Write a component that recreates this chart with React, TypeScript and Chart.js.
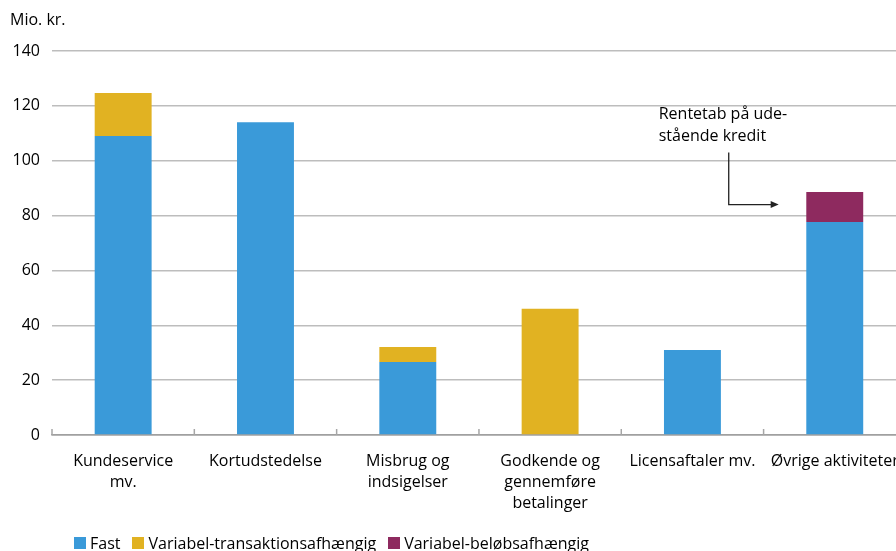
import React, { useEffect, useRef } from "react";
import { Chart, registerables } from "chart.js";

Chart.register(...registerables);

const categories: string[][] = [
  ["Kundeservice", "mv."],
  ["Kortudstedelse"],
  ["Misbrug og", "indsigelser"],
  ["Godkende og", "gennemføre", "betalinger"],
  ["Licensaftaler mv."],
  ["Øvrige aktiviteter"],
];
const fast: (number | null)[] = [109, 114, 26.6, null, 31, 77.7];
const variabelTransaktion: (number | null)[] = [15.7, null, 5.5, 46, null, null];
const variabelBelob: (number | null)[] = [null, null, null, null, null, 10.9];
const seriesNames = ["Fast", "Variabel-transaktionsafhængig", "Variabel-beløbsafhængig"];
const seriesColors = ["#3a9ad9", "#e1b222", "#8e2a5f"];
const yMin = 0;
const yMax = 140;
const yStep = 20;
const unitLabel = "Mio. kr.";
const annotationLines = ["Rentetab på ude-", "stående kredit"];
const annotationCategory = 5;
const annotationTextValue = 116.7;
const annotationElbowTopValue = 103;
const annotationArrowValue = 84;

const FONT = '"Open Sans", "Noto Sans", sans-serif';

const extrasPlugin = {
  id: "extras",
  afterDraw(chart: any) {
    const { ctx, scales } = chart;
    const x = scales.x;
    const y = scales.y;
    ctx.save();
    // category separator tick marks (inward)
    const step = x.getPixelForValue(1) - x.getPixelForValue(0);
    const y0 = y.getPixelForValue(0);
    ctx.strokeStyle = "#a6a6a6";
    ctx.lineWidth = 1.5;
    for (let i = 0; i <= categories.length; i++) {
      const px = x.getPixelForValue(0) + (i - 0.5) * step;
      ctx.beginPath();
      ctx.moveTo(px, y0);
      ctx.lineTo(px, y0 - 6);
      ctx.stroke();
    }
    // unit label
    ctx.font = `16px ${FONT}`;
    ctx.fillStyle = "#000";
    ctx.textAlign = "left";
    ctx.textBaseline = "middle";
    ctx.fillText(unitLabel, 10, 20);
    // annotation
    const cx = x.getPixelForValue(annotationCategory);
    const textX = cx - step * 1.237;
    const textY = y.getPixelForValue(annotationTextValue);
    annotationLines.forEach((line, i) => ctx.fillText(line, textX, textY + i * 22));
    const elbowX = cx - step * 0.745;
    const arrowEnd = cx - step * 0.394;
    const topY = y.getPixelForValue(annotationElbowTopValue);
    const arrowY = y.getPixelForValue(annotationArrowValue);
    ctx.strokeStyle = "#222";
    ctx.lineWidth = 1.3;
    ctx.beginPath();
    ctx.moveTo(elbowX, topY);
    ctx.lineTo(elbowX, arrowY);
    ctx.lineTo(arrowEnd - 7, arrowY);
    ctx.stroke();
    ctx.fillStyle = "#222";
    ctx.beginPath();
    ctx.moveTo(arrowEnd, arrowY);
    ctx.lineTo(arrowEnd - 8, arrowY - 3.5);
    ctx.lineTo(arrowEnd - 8, arrowY + 3.5);
    ctx.closePath();
    ctx.fill();
    ctx.restore();
  },
};

export default function App() {
  const canvasRef = useRef<HTMLCanvasElement | null>(null);

  useEffect(() => {
    const canvas = canvasRef.current;
    if (!canvas) return;
    const data = [fast, variabelTransaktion, variabelBelob];
    const chart = new Chart(canvas, {
      type: "bar",
      data: {
        labels: categories,
        datasets: seriesNames.map((name, i) => ({
          label: name,
          data: data[i],
          backgroundColor: seriesColors[i],
          borderWidth: 0,
          barPercentage: 0.4,
          categoryPercentage: 1,
        })),
      },
      options: {
        responsive: false,
        animation: false,
        layout: { padding: { top: 51, right: 4, bottom: 0, left: 0 } },
        plugins: {
          legend: { display: false },
          tooltip: { enabled: false },
        },
        scales: {
          x: {
            stacked: true,
            grid: { display: false, drawTicks: false },
            border: { display: true, color: "#a0a0a0", width: 1.5 },
            ticks: {
              color: "#000",
              font: { family: FONT, size: 16, lineHeight: 1.31 },
              padding: 16,
              maxRotation: 0,
              autoSkip: false,
            },
            afterFit: (scale: any) => {
              scale.height = 116;
            },
          },
          y: {
            stacked: true,
            min: yMin,
            max: yMax,
            ticks: {
              stepSize: yStep,
              color: "#000",
              font: { family: FONT, size: 16 },
              padding: 12,
            },
            grid: {
              drawTicks: false,
              color: (c: any) => (c.tick && c.tick.value === 0 ? "#a0a0a0" : "#bdbdbd"),
              lineWidth: 1.5,
            },
            border: { display: false },
            afterFit: (scale: any) => {
              scale.width = 52;
            },
          },
        },
      },
      plugins: [extrasPlugin],
    });
    return () => chart.destroy();
  }, []);

  return (
    <div
      style={{
        position: "absolute",
        left: 0,
        top: 0,
        width: 896,
        height: 551,
        overflow: "hidden",
        background: "#fff",
      }}
    >
      <canvas ref={canvasRef} width={915} height={551} style={{ display: "block" }} />
      <div
        style={{
          position: "absolute",
          left: 74,
          top: 535,
          display: "flex",
          alignItems: "center",
          fontFamily: FONT,
          fontSize: 16,
          lineHeight: "16px",
          color: "#000",
          whiteSpace: "nowrap",
        }}
      >
        {seriesNames.map((name, i) => (
          <span key={name} style={{ display: "flex", alignItems: "center", marginRight: 12 }}>
            <span
              style={{
                display: "inline-block",
                width: 12,
                height: 12,
                background: seriesColors[i],
                marginRight: 4,
              }}
            />
            {name}
          </span>
        ))}
      </div>
    </div>
  );
}
